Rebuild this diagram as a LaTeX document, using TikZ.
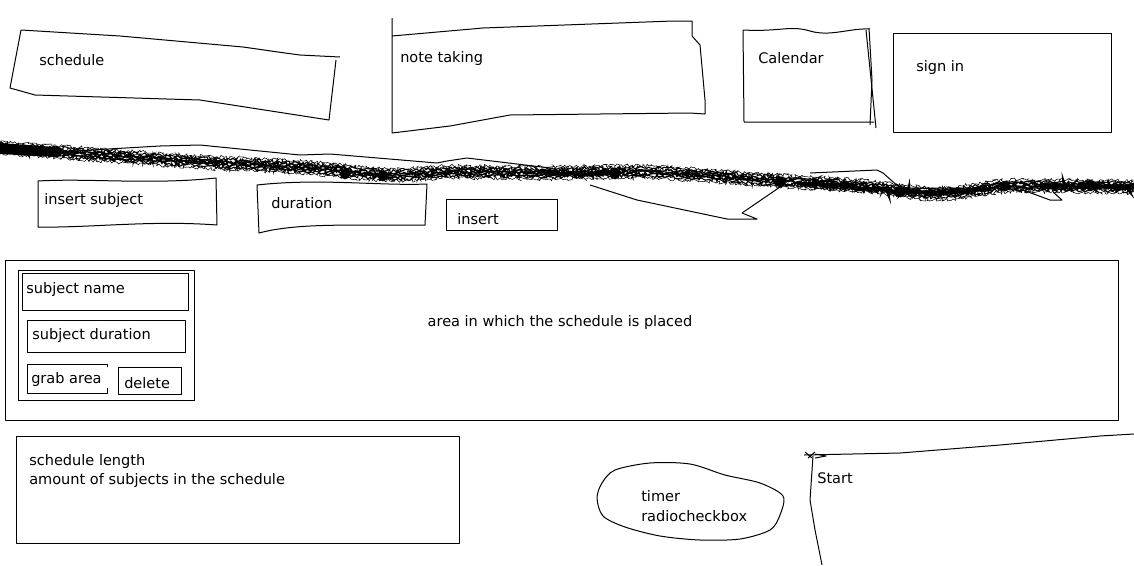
\documentclass[tikz,border=0pt]{standalone}
\usepackage{fontspec}
\setmainfont{DejaVu Sans}
\usetikzlibrary{decorations.pathmorphing}

\tikzset{
  sketch/.style={line width=0.75pt, line join=round},
  lbl/.style={anchor=west, inner sep=0pt, font=\fontsize{10.9}{13}\selectfont},
  spray/.style={decorate, decoration={random steps, segment length=1.1pt, amplitude=1.3pt}},
}

\begin{document}
\begin{tikzpicture}[x=0.75pt, y=-0.75pt]
    \useasboundingbox (0,0) rectangle (1134,565);
    \pgfmathsetseed{11}

    % top row of tabs
    \draw[sketch] (21,30) -- (120,36) -- (243,47) -- (285,53) -- (300,55) -- (340,57);
    \draw[sketch] (336,60) -- (329,120) -- (200,100) -- (35,95) -- (10,88) -- (21,30);
    \node[lbl] (schedule) at (39,60) {schedule};

    \draw[sketch] (392,18) -- (392,133) -- (450,126) -- (510,115) -- (690,113) -- (705,114)
        -- (705,100) -- (700,45) -- (692,36) -- (692,21) -- (673,21) -- (483,28) -- (392,36);
    \node[lbl] (notes) at (400,58) {note taking};

    \draw[sketch] (743,30) -- (744,122) -- (874,122);
    \draw[sketch] (743,30) .. controls (780,32) and (790,25) .. (810,31) .. controls (830,37) and (850,28) .. (869,29);
    \draw[sketch] (869,28) -- (872,80) -- (870,125);
    \draw[sketch] (866,30) -- (876,128);
    \node[lbl] (calendar) at (758,58) {Calendar};

    \draw[sketch] (893,33) rectangle (1111,132);
    \node[lbl] (signin) at (916,67) {sign in};

    % scribbled divider
    \foreach \dy/\w in {-6/0.4, -4/0.8, -2/1.1, 0/1.3, 2/1.1, 4/0.8, 6/0.4} {
        \draw[spray, line width=\w pt, yshift=\dy*0.75pt] plot[smooth] coordinates
            {(0,148) (60,152) (200,162) (300,167) (390,175) (450,172) (550,173) (650,172) (780,181) (860,186) (940,194) (1010,186) (1134,187)};
    }
    \draw[spray, line width=2.5pt] (540,172) -- (580,174) -- (620,173);
    \draw[spray, line width=2.5pt] (800,183) -- (860,188) -- (930,193) -- (990,188);
    \draw[spray, line width=2.5pt] (1040,186) -- (1090,186) -- (1134,187);
    \fill (0,143) -- (55,147) -- (58,157) -- (0,154) -- cycle;
    \foreach \px/\py in {57/152, 345/174, 383/176, 780/182, 1005/186, 1090/185, 900/192, 615/174} {
        \fill (\px,\py) circle[radius=4pt];
    }
    \draw[sketch] (57,152) -- (160,146) -- (200,145) -- (300,155) -- (330,154) -- (437,163)
        -- (447,161) -- (467,158) -- (550,168);
    \draw[sketch] (590,185) -- (637,200) -- (727,219) -- (757,219) -- (742,213) -- (780,187);
    \draw[sketch] (810,173) -- (877,170) -- (883,173) -- (900,188) -- (1134,188);
    \draw[sketch] (1020,189) -- (1050,200) -- (1062,200) -- (1053,192);

    % input row
    \draw[sketch] (38,181) .. controls (90,178) and (150,185) .. (216,178) -- (217,225)
        .. controls (150,220) and (90,228) .. (38,227) -- cycle;
    \node[lbl] (subject) at (44,200) {insert subject};

    \draw[sketch] (257,185) .. controls (320,178) and (380,186) .. (427,184) -- (425,225)
        .. controls (360,226) and (300,222) .. (259,233) -- cycle;
    \node[lbl] (duration) at (271,203) {duration};

    \draw[sketch] (446,199) rectangle (557,230);
    \node[lbl] (insert) at (457,219) {insert};

    % schedule area
    \draw[sketch] (5,260) rectangle (1118,420);
    \node[lbl, anchor=center] (area) at (560,322) {area in which the schedule is placed};

    \draw[sketch] (18,270) rectangle (194,400);
    \draw[sketch] (22,273) rectangle (188,310);
    \node[lbl] (name) at (26,289) {subject name};
    \draw[sketch] (27,320) rectangle (185,352);
    \node[lbl] (subdur) at (32,335) {subject duration};
    \draw[sketch] (107,367) -- (107,364) -- (27,364) -- (27,393) -- (107,393) -- (107,388);
    \node[lbl] (grab) at (31,379) {grab area};
    \draw[sketch] (118,367) rectangle (181,394);
    \node[lbl] (delete) at (124,383) {delete};

    % bottom row
    \draw[sketch] (16,436) rectangle (459,543);
    \node[lbl] (length) at (29,461) {schedule length};
    \node[lbl] (amount) at (29,480) {amount of subjects in the schedule};

    \draw[sketch] plot[smooth cycle] coordinates {(615,470) (650,463) (690,464) (725,475) (760,483)
        (783,496) (780,515) (770,530) (740,539) (700,540) (660,536) (625,527) (603,516) (597,498) (602,483)};
    \node[lbl] (timer) at (641,496) {timer};
    \node[lbl] (radio) at (641,516) {radiocheckbox};

    \draw[sketch] (804,455) -- (900,453) -- (1000,445) -- (1100,436) -- (1134,434);
    \draw[sketch] (813,456) -- (810,500) -- (815,530) -- (822,565);
    \draw[sketch] (805,452) -- (812,458) (808,458) -- (815,452) (815,454) -- (826,456) -- (815,458);
    \node[lbl] (start) at (817,478) {Start};
\end{tikzpicture}
\end{document}
